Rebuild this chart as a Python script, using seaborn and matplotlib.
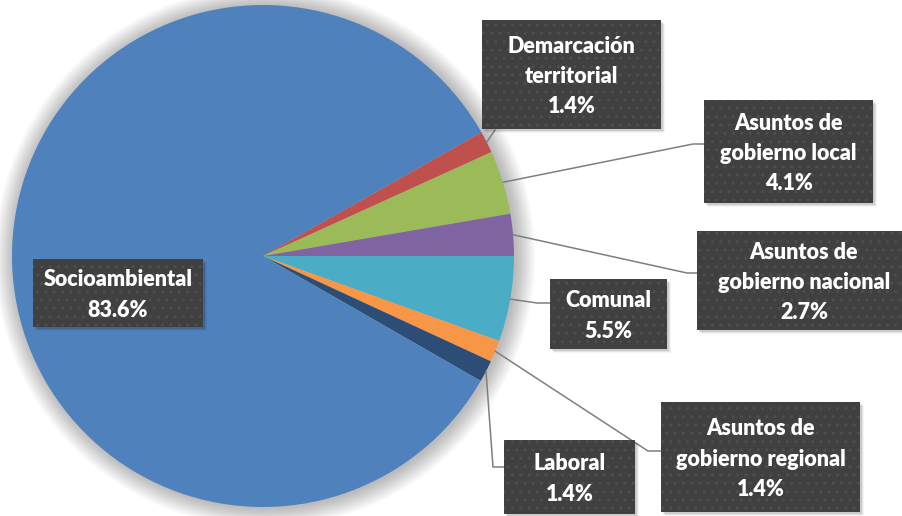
import numpy as np
import matplotlib
matplotlib.use("Agg")
import matplotlib.pyplot as plt
from matplotlib.patches import Rectangle, Circle
import seaborn as sns

# ---- data (clockwise from 3 o'clock) ----
categories = ["Comunal", "Asuntos de\ngobierno regional", "Laboral", "Socioambiental",
              "Demarcación\nterritorial", "Asuntos de\ngobierno local", "Asuntos de\ngobierno nacional"]
values = [5.5, 1.4, 1.4, 83.6, 1.4, 4.1, 2.7]
pct_labels = ["5.5%", "1.4%", "1.4%", "83.6%", "1.4%", "4.1%", "2.7%"]
colors = ["#4BACC6", "#F79646", "#2C4D75", "#4F81BD", "#C0504D", "#9BBB59", "#8064A2"]

sns.set_theme(style="white")
plt.rcParams['font.family'] = ['Lato', 'DejaVu Sans']

W, H = 902, 516
fig = plt.figure(figsize=(W / 100, H / 100), dpi=100)
ax = fig.add_axes([0, 0, 1, 1])

cx, cy_px, R = 263, 256, 251
cy = H - cy_px

# soft glow behind pie
for i in range(14):
    ax.add_patch(Circle((cx + 2, cy - 1), R + 1 + i * 1.4, facecolor="#000000",
                        alpha=0.018, lw=0, zorder=0))

palette = sns.color_palette(colors)
wedges, _ = ax.pie(values, colors=palette, startangle=0, counterclock=False,
                   radius=R, center=(cx, cy), frame=True,
                   wedgeprops=dict(linewidth=0))
for w in wedges:
    w.set_zorder(2)

ax.set_xlim(0, W)
ax.set_ylim(0, H)
ax.set_aspect("equal")
ax.axis("off")

# label boxes: (x0, x1, y0, y1) in pixel coords (y down); elbow points
boxes = {
    0: ((550, 667, 279, 349), [(537, 303), (550, 303)]),
    1: ((661, 860, 402, 512), [(648, 451), (661, 451)]),
    2: ((504, 635, 440, 514), [(493, 467), (504, 467)]),
    3: ((33, 203, 259, 327), None),
    4: ((482, 661, 20, 129), [(495, 130)]),
    5: ((704, 873, 100, 203), [(693, 144), (704, 144)]),
    6: ((697, 911, 231, 330), [(687, 273), (697, 273)]),
}

for i, w in enumerate(wedges):
    (x0, x1, y0, y1), elbow = boxes[i]
    if elbow is not None:
        mid = np.deg2rad((w.theta1 + w.theta2) / 2)
        sx, sy = cx + R * np.cos(mid), cy + R * np.sin(mid)
        xs = [sx] + [p[0] for p in elbow]
        ys = [sy] + [H - p[1] for p in elbow]
        ax.plot(xs, ys, color="#7F7F7F", lw=1.1, zorder=3, solid_joinstyle="miter")
    for k, a in enumerate([0.10, 0.07, 0.04]):
        ax.add_patch(Rectangle((x0 + 2 + k, H - y1 - 2 - k), x1 - x0, y1 - y0,
                               facecolor="#000000", alpha=a, lw=0, zorder=4))
    ax.add_patch(Rectangle((x0, H - y1), x1 - x0, y1 - y0, facecolor="#404040",
                           lw=0, zorder=5))
    ax.add_patch(Rectangle((x0, H - y1), x1 - x0, y1 - y0, facecolor="none",
                           edgecolor="#4E4E4E", hatch="..", lw=0, zorder=6))
    ax.text((x0 + x1) / 2, H - (y0 + y1) / 2 - 2, categories[i] + "\n" + pct_labels[i],
            ha="center", va="center", color="white", fontsize=15.5, fontweight="heavy",
            linespacing=1.55, zorder=7)

fig.savefig("out.png", dpi=100, facecolor="white")
